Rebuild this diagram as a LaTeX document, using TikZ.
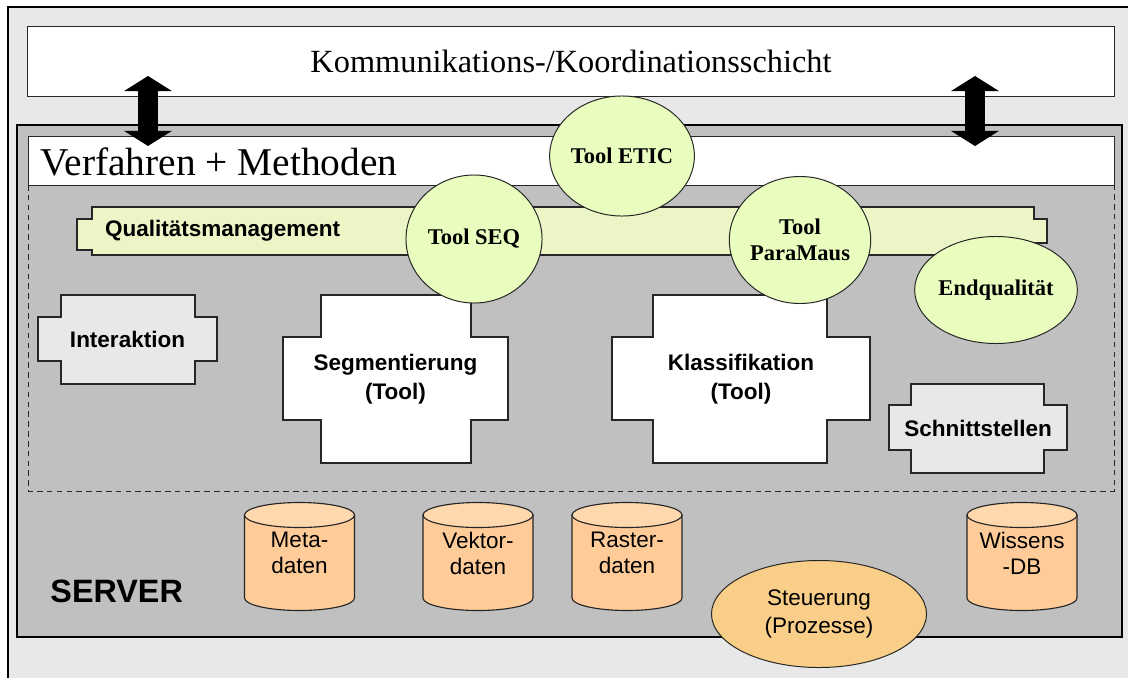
\documentclass[tikz,border=0pt]{standalone}
\usepackage{fontspec}
\setmainfont{Liberation Serif}
\setsansfont{Liberation Sans}
\usetikzlibrary{arrows.meta,shapes.geometric}

\definecolor{panegray}{HTML}{E8E8E8}
\definecolor{servergray}{HTML}{C0C0C0}
\definecolor{qmgreen}{HTML}{EBF5C6}
\definecolor{toolgreen}{HTML}{E9FDBE}
\definecolor{dbbody}{HTML}{FFCC99}
\definecolor{dbtop}{HTML}{FFD8AE}
\definecolor{ctrlorange}{HTML}{F8CE88}

% cross shaped block: style, x outer left/inner left/inner right/outer right, y top/arm top/arm bottom/bottom
\newcommand{\crossblock}[9]{%
	\filldraw[block,#1] (#2,#7) -- (#3,#7) -- (#3,#6) -- (#4,#6) -- (#4,#7) -- (#5,#7)
		-- (#5,#8) -- (#4,#8) -- (#4,#9) -- (#3,#9) -- (#3,#8) -- (#2,#8) -- cycle;}

\begin{document}
\begin{tikzpicture}[x=0.025cm,y=-0.025cm,line width=0.7pt,
		layer/.style={draw=black!85,fill=white},
		block/.style={draw=black!85,line width=0.8pt},
		blocktext/.style={font=\sffamily\bfseries\fontsize{16}{20.5}\selectfont,align=center},
		tool/.style={ellipse,draw=black!85,fill=toolgreen,inner sep=0pt,align=center,font=\bfseries\fontsize{16}{18.5}\selectfont},
		dbtext/.style={font=\sffamily\fontsize{16}{18.5}\selectfont,align=center},
		updown/.style={line width=14.2pt,{Triangle[width=34pt,length=10.7pt,line width=0pt]}-{Triangle[width=34pt,length=10.7pt,line width=0pt]}}]
	\useasboundingbox (0,0) rectangle (1128,677);
	\clip (0,0) rectangle (1128,677);
	\fill[white] (0,0) rectangle (1128,677);
	\filldraw[fill=panegray,draw=black,line width=1pt] (8,7) rectangle (1140,690);

	% communication layer
	\node[layer,minimum width=27.15cm,minimum height=1.725cm,font=\fontsize{23}{28}\selectfont] (komm) at (571,61.5) {Kommunikations-/Koordinationsschicht};

	% server with methods layer
	\filldraw[fill=servergray,draw=black,line width=2pt] (17,125) rectangle (1122,637);
	\filldraw[layer] (28,136) rectangle (1114,185);
	\node[anchor=base west,inner sep=0pt,font=\fontsize{28}{34}\selectfont] (verf) at (40,175) {Verfahren + Methoden};
	\draw[black!85,dash pattern=on 4pt off 3pt] (28,185) rectangle (1114,491);

	% quality band
	\filldraw[block,fill=qmgreen] (92,207) -- (1034,207) -- (1034,219) -- (1047,219) -- (1047,243) -- (1034,243)
		-- (1034,255) -- (92,255) -- (92,250) -- (77,250) -- (77,219) -- (92,219) -- cycle;
	\node[blocktext,anchor=west] (qm) at (100,231) {Qualitätsmanagement};

	% blocks
	\crossblock{fill=panegray}{38}{61}{195}{217}{295}{317}{361}{384}
	\node[blocktext] (inter) at (127.5,339.5) {Interaktion};
	\crossblock{fill=white}{283}{321}{471}{508}{295}{337}{420}{463}
	\node[blocktext] (segm) at (395.5,379) {Segmentierung\\(Tool)};
	\crossblock{fill=white}{612}{653}{827}{870}{295}{337}{420}{463}
	\node[blocktext] (klass) at (741,379) {Klassifikation\\(Tool)};
	\crossblock{fill=panegray}{889}{911}{1044}{1067}{384}{405}{450}{473}
	\node[blocktext] (schnitt) at (978,428.5) {Schnittstellen};

	% data stores
	\foreach \cx/\dbname/\dbtxt in {299.5/meta/{Meta-\\daten},478/vektor/{Vektor-\\daten},627/raster/{Raster-\\daten},1022/wissen/{Wissens\\-DB}} {
		\filldraw[block,fill=dbbody] (\cx-55,515) -- (\cx-55,598) arc[start angle=180,end angle=360,x radius=1.375cm,y radius=0.3125cm] -- (\cx+55,515) -- cycle;
		\filldraw[block,fill=dbtop] (\cx,515) ellipse[x radius=1.375cm,y radius=0.3125cm];
		\node[dbtext] (db\dbname) at (\cx,553) {\dbtxt};
	}
	\node[anchor=base west,inner sep=0pt,font=\sffamily\bfseries\fontsize{23}{28}\selectfont] (server) at (50,602) {SERVER};

	% tools
	\node[tool,minimum width=3.4cm,minimum height=3.2cm] (seq) at (474,239) {Tool SEQ};
	\node[tool,minimum width=3.425cm,minimum height=3.175cm] (para) at (800,240) {Tool\\ParaMaus};
	\node[tool,minimum width=3.425cm,minimum height=3cm] (etic) at (622,156) {Tool ETIC};
	\node[tool,minimum width=3.9cm,minimum height=2.675cm] (endq) at (996,290) {Endqualität};
	\node[ellipse,draw=black!85,fill=ctrlorange,minimum width=5.375cm,minimum height=2.675cm,inner sep=0pt,align=center,font=\sffamily\fontsize{16}{20}\selectfont] (steuer) at (819,614) {Steuerung\\(Prozesse)};

	% links to the communication layer
	\coordinate (kommL) at (148,76);
	\coordinate (serverL) at (148,146);
	\coordinate (kommR) at (975,76);
	\coordinate (serverR) at (975,146);
	\draw[updown] (serverL) -- (kommL);
	\draw[updown] (serverR) -- (kommR);
\end{tikzpicture}
\end{document}
